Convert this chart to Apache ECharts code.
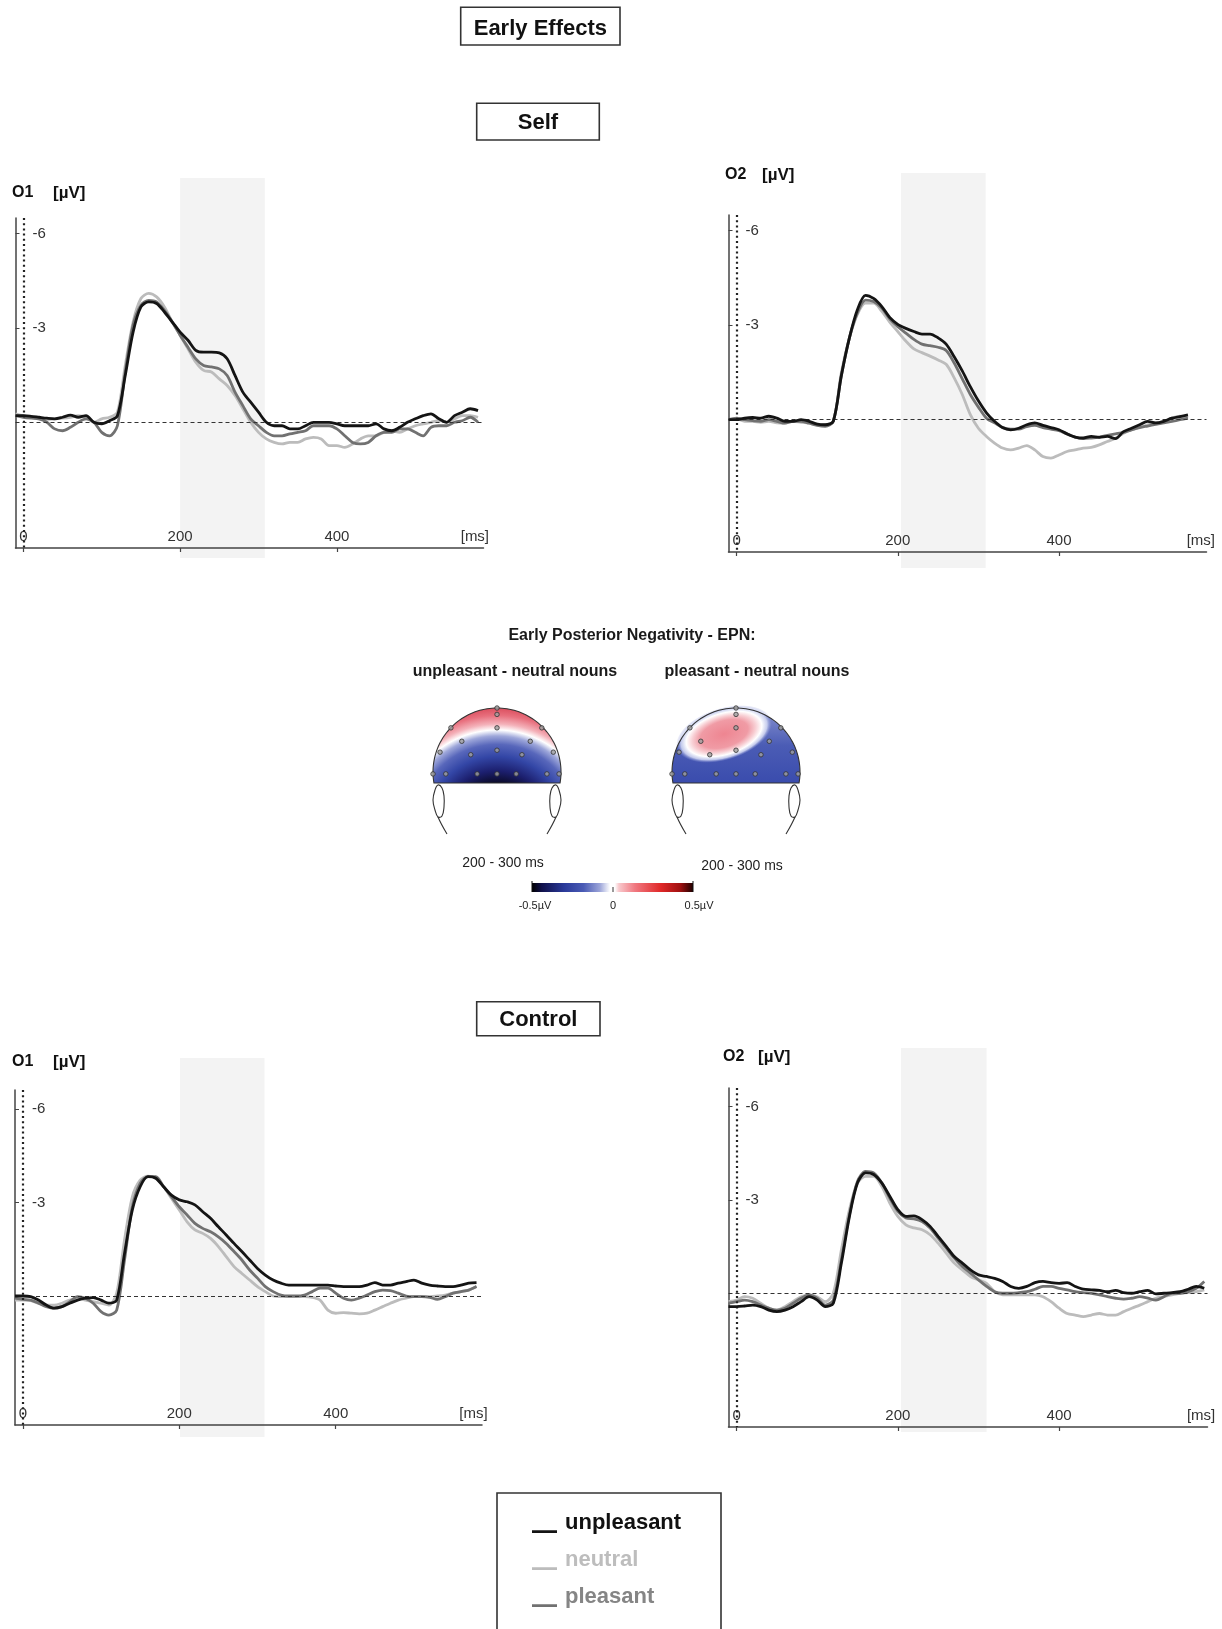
<!DOCTYPE html>
<html>
<head>
<meta charset="utf-8">
<script src="https://cdn.jsdelivr.net/npm/echarts@6/dist/echarts.min.js"></script>
<style>html,body{margin:0;padding:0;background:#fff}#c{width:1222px;height:1629px}</style>
</head>
<body>
<div id="c"></div>
<script>
// ================= DATA =================
const times = [-10,0,10,20,30,40,50,60,70,80,90,100,110,120,130,140,150,160,170,180,190,200,210,220,230,240,250,260,270,280,290,300,310,320,330,340,350,360,370,380,390,400,410,420,430,440,450,460,470,480,490,500,510,520,530,540,550,560,570,580];

// Self, O1 (µV, negative plotted up)
const selfO1_unpleasant = [-0.21,-0.21,-0.19,-0.16,-0.13,-0.11,-0.16,-0.23,-0.16,-0.21,0,0.05,-0.05,-0.21,
  -1.49,-2.87,-3.67,-3.83,-3.78,-3.51,-3.19,-2.87,-2.61,-2.29,-2.23,-2.23,-2.21,
  -2.02,-1.49,-0.96,-0.64,-0.32,0,0.11,0.11,0.21,0.21,0.11,0,0,
  0,0.05,0.11,0.11,0.11,0.11,0.05,0.21,0.27,0.16,0,-0.11,-0.21,
  -0.27,-0.11,0,-0.21,-0.32,-0.43,-0.37];
const selfO1_neutral = [-0.27,-0.21,-0.16,-0.11,-0.09,-0.11,-0.13,-0.16,-0.21,-0.16,0,-0.11,-0.16,-0.32,
  -1.81,-3.19,-3.94,-4.1,-3.99,-3.67,-3.19,-2.77,-2.34,-1.91,-1.65,-1.6,-1.38,
  -1.17,-0.85,-0.43,0,0.32,0.53,0.64,0.69,0.64,0.64,0.53,0.48,0.53,
  0.74,0.74,0.8,0.69,0.53,0.43,0.43,0.32,0.27,0.32,0.21,0.11,0.05,
  0,-0.05,0,-0.11,-0.21,-0.21,-0.16];
const selfO1_pleasant = [-0.21,-0.16,-0.13,-0.11,0,0.21,0.27,0.16,0,-0.11,0,0.32,0.43,0.11,
  -1.6,-3.09,-3.72,-3.88,-3.83,-3.56,-3.19,-2.77,-2.39,-2.02,-1.81,-1.76,-1.7,
  -1.49,-0.96,-0.53,-0.11,0.11,0.32,0.43,0.43,0.37,0.32,0.27,0.11,0.11,
  0.11,0.21,0.43,0.64,0.69,0.64,0.43,0.32,0.32,0.21,0.21,0.32,0.43,
  0.16,0.11,0.11,0,-0.05,-0.16,0];

// Self, O2
const selfO2_unpleasant = [0,0,-0.05,-0.07,-0.05,-0.11,-0.05,0.05,0.05,0,0.05,0.14,0.16,0.05,
  -1.4,-2.6,-3.5,-3.95,-3.85,-3.6,-3.25,-3.03,-2.9,-2.8,-2.72,-2.72,-2.6,
  -2.4,-2.0,-1.55,-1.05,-0.6,-0.22,0.05,0.25,0.32,0.27,0.16,0.1,0.18,
  0.25,0.32,0.45,0.55,0.58,0.53,0.56,0.53,0.6,0.38,0.27,0.16,0.05,
  0.1,0.05,-0.05,-0.1,-0.15];
const selfO2_neutral = [0,-0.03,0.05,0.05,0.08,0.05,0.1,0.11,0.05,0.08,0.1,0.14,0.16,0.05,
  -1.5,-2.6,-3.35,-3.7,-3.7,-3.45,-3.1,-2.8,-2.5,-2.25,-2.13,-2.02,-1.9,
  -1.76,-1.33,-0.8,-0.16,0.27,0.53,0.74,0.9,0.96,0.9,0.82,0.96,1.17,
  1.22,1.12,1.01,0.96,0.9,0.88,0.8,0.69,0.59,0.43,0.32,0.24,0.16,
  0.11,0.05,-0.05,-0.11,-0.05];
const selfO2_pleasant = [0,-0.05,0,0.03,0.05,0,0.05,0.11,0.05,0.05,0.11,0.18,0.21,0.05,
  -1.4,-2.6,-3.4,-3.8,-3.75,-3.55,-3.2,-2.95,-2.75,-2.55,-2.4,-2.35,-2.3,
  -2.2,-1.8,-1.3,-0.8,-0.4,-0.05,0.1,0.25,0.3,0.3,0.22,0.18,0.25,
  0.3,0.35,0.45,0.55,0.6,0.58,0.55,0.5,0.45,0.4,0.32,0.25,0.2,
  0.15,0.1,0.05,0,-0.05];

// Control, O1
const controlO1_unpleasant = [-0.02,-0.02,0,0.11,0.27,0.37,0.32,0.21,0.11,0.05,0.03,0.11,0.21,0.11,
  -1.38,-2.77,-3.51,-3.83,-3.78,-3.51,-3.24,-3.09,-3.03,-2.93,-2.71,-2.5,-2.23,
  -1.97,-1.7,-1.44,-1.17,-0.9,-0.69,-0.53,-0.43,-0.37,-0.37,-0.37,-0.37,-0.37,
  -0.37,-0.34,-0.32,-0.32,-0.32,-0.37,-0.45,-0.37,-0.37,-0.43,-0.48,-0.53,-0.43,
  -0.37,-0.34,-0.32,-0.32,-0.37,-0.43,-0.45];
const controlO1_neutral = [0.11,0.11,0.13,0.21,0.27,0.27,0.21,0.11,0.05,0.11,0.16,0.21,0.27,-0.11,
  -1.81,-3.19,-3.72,-3.85,-3.78,-3.51,-3.14,-2.77,-2.39,-2.13,-2.02,-1.86,-1.6,
  -1.28,-0.96,-0.74,-0.53,-0.32,-0.16,-0.02,0,0,0,0,0.02,0.11,
  0.43,0.53,0.51,0.53,0.55,0.53,0.43,0.32,0.21,0.11,0.05,0,0,
  0,-0.02,-0.05,-0.11,-0.16,-0.21,-0.32];
const controlO1_pleasant = [0.05,0.09,0.11,0.21,0.32,0.37,0.32,0.16,0,0.05,0.21,0.48,0.59,0.43,
  -1.17,-2.87,-3.62,-3.83,-3.83,-3.51,-3.19,-2.87,-2.61,-2.34,-2.18,-2.07,-1.91,
  -1.7,-1.44,-1.17,-0.85,-0.59,-0.32,-0.16,-0.05,-0.02,-0.02,-0.05,-0.16,-0.27,
  -0.27,-0.11,0.05,0.11,0.05,-0.05,-0.16,-0.21,-0.19,-0.11,-0.02,0,0,
  0.02,0.09,0,-0.11,-0.16,-0.21,-0.32];

// Control, O2
const controlO2_unpleasant = [0.43,0.43,0.41,0.38,0.43,0.54,0.59,0.54,0.43,0.27,0.11,0.22,0.43,0.32,
  -0.97,-2.47,-3.55,-3.87,-3.82,-3.55,-3.12,-2.69,-2.47,-2.49,-2.37,-2.15,-1.83,
  -1.51,-1.18,-0.97,-0.75,-0.59,-0.54,-0.48,-0.38,-0.22,-0.16,-0.22,-0.34,-0.38,
  -0.34,-0.32,-0.34,-0.22,-0.13,-0.11,-0.09,-0.05,-0.09,-0.02,0,-0.05,-0.09,
  0.02,0,-0.02,-0.05,-0.13,-0.22,-0.16];
const controlO2_neutral = [0.27,0.22,0.11,0.16,0.32,0.48,0.54,0.43,0.27,0.11,0.05,0.11,0.27,0,
  -1.4,-2.69,-3.55,-3.76,-3.76,-3.44,-2.9,-2.47,-2.2,-2.1,-2.04,-1.88,-1.61,
  -1.29,-0.97,-0.75,-0.54,-0.43,-0.32,-0.05,0.05,0.05,0.05,0.05,0.05,0.11,
  0.27,0.48,0.65,0.7,0.75,0.7,0.65,0.7,0.7,0.59,0.48,0.38,0.27,
  0.16,0.11,0.05,0,-0.02,-0.05,-0.11];
const controlO2_pleasant = [0.32,0.27,0.22,0.27,0.38,0.48,0.54,0.48,0.32,0.16,0.05,0.16,0.38,0.22,
  -1.08,-2.53,-3.6,-3.92,-3.87,-3.55,-3.06,-2.63,-2.42,-2.39,-2.31,-2.1,-1.77,
  -1.45,-1.13,-0.86,-0.65,-0.43,-0.22,-0.05,0,0,-0.02,-0.05,-0.13,-0.22,
  -0.22,-0.16,-0.11,-0.05,-0.02,0,0.05,0.11,0.16,0.19,0.16,0.11,0.16,
  0.22,0.11,0,0,-0.05,-0.16,-0.38];

const conditionNames = ['unpleasant', 'neutral', 'pleasant'];
const channelNames = ['O1', 'O2', 'O1', 'O2'];
const unitLabel = '[µV]';
const yTickValues = [-6, -3];
const xTickValues = [0, 200, 400];
const msLabelPos = 576;
const msLabel = '[ms]';
const shadeWindows = [[200, 308], [204, 309], [201, 309], [204, 310]];

// electrode layout (head units, y up)
const electrodeX = [0, 0, -0.72, 0, 0.70, -0.55, 0.52, -0.89, 0, 0.88, -0.41, 0.39, -1.0, -0.80, -0.31, 0, 0.30, 0.78, 0.97];
const electrodeY = [1.0, 0.9, 0.69, 0.69, 0.69, 0.48, 0.48, 0.31, 0.34, 0.31, 0.27, 0.27, -0.03, -0.03, -0.03, -0.03, -0.03, -0.03, -0.03];
const colorbarLabels = ['-0.5µV', '0', '0.5µV'];

// ================= STYLE / LAYOUT =================
const FONT = "'Liberation Sans', Arial, Helvetica, sans-serif";
const COLORS = {unpleasant: '#141414', neutral: '#bcbcbc', pleasant: '#717171'};
const LEGEND_TEXT = {unpleasant: '#111111', neutral: '#bdbdbd', pleasant: '#858585'};
const DRAW_ORDER = ['neutral', 'pleasant', 'unpleasant'];

const panels = [
  {grid: {left: 15.5, top: 218, width: 468, height: 330}, xr: [-10, 587], yr: [-6.5, 4.0],
   lines: {unpleasant: selfO1_unpleasant, neutral: selfO1_neutral, pleasant: selfO1_pleasant},
   shadeY: [178, 558], lab: {x: 12, y: 193, ux: 53}},
  {grid: {left: 728.5, top: 215, width: 478, height: 337}, xr: [-10, 583], yr: [-6.5, 4.2],
   lines: {unpleasant: selfO2_unpleasant, neutral: selfO2_neutral, pleasant: selfO2_pleasant},
   shadeY: [173, 568], lab: {x: 725, y: 175, ux: 762}},
  {grid: {left: 15, top: 1090, width: 467, height: 335}, xr: [-10, 587], yr: [-6.6, 4.1],
   lines: {unpleasant: controlO1_unpleasant, neutral: controlO1_neutral, pleasant: controlO1_pleasant},
   shadeY: [1058, 1437], lab: {x: 12, y: 1062, ux: 53}},
  {grid: {left: 728.5, top: 1088, width: 479, height: 339}, xr: [-10, 584], yr: [-6.6, 4.3],
   lines: {unpleasant: controlO2_unpleasant, neutral: controlO2_neutral, pleasant: controlO2_pleasant},
   shadeY: [1048, 1432], lab: {x: 723, y: 1057, ux: 758}}
];

const HEADS = [{cx: 497, cy: 772, r: 64, d: 11}, {cx: 736, cy: 772, r: 64, d: 11}];

// ================= BUILD =================
const grids = [], xAxes = [], yAxes = [], series = [];
panels.forEach((p, i) => {
  grids.push(Object.assign({containLabel: false, outerBoundsMode: 'none'}, p.grid));
  xAxes.push({
    type: 'value', gridIndex: i, min: p.xr[0], max: p.xr[1], position: 'bottom',
    axisLine: {show: true, onZero: false, lineStyle: {color: '#444', width: 1.5}},
    axisTick: {show: true, inside: false, length: 4, customValues: xTickValues, lineStyle: {color: '#444', width: 1.2}},
    axisLabel: {show: true, inside: true, margin: 4, customValues: xTickValues.concat([msLabelPos]),
      formatter: v => (v === msLabelPos ? msLabel : String(v)),
      color: '#333', fontSize: 15, fontFamily: FONT},
    splitLine: {show: false}
  });
  yAxes.push({
    type: 'value', gridIndex: i, min: p.yr[0], max: p.yr[1], inverse: true, position: 'left',
    axisLine: {show: true, onZero: false, lineStyle: {color: '#444', width: 1.5}},
    axisTick: {show: true, inside: true, length: 4, customValues: yTickValues, lineStyle: {color: '#444'}},
    axisLabel: {show: true, inside: true, margin: 17, customValues: yTickValues,
      formatter: v => String(v), color: '#333', fontSize: 15, fontFamily: FONT},
    splitLine: {show: false}
  });
  DRAW_ORDER.forEach((name, k) => {
    const vals = p.lines[name];
    const s = {
      type: 'line', name: name, xAxisIndex: i, yAxisIndex: i,
      data: vals.map((v, j) => [times[j], v]),
      showSymbol: false, symbol: 'none', smooth: 0.3, silent: true,
      color: COLORS[name],
      lineStyle: {color: COLORS[name], width: 2.8},
      z: 3 + k
    };
    if (k === 0) {
      s.markLine = {
        silent: true, symbol: ['none', 'none'], label: {show: false}, animation: false,
        data: [
          {xAxis: 0, lineStyle: {type: [2, 3.2], width: 2.2, color: '#222'}},
          {yAxis: 0, lineStyle: {type: [4, 3], width: 1, color: '#333'}}
        ]
      };
    }
    series.push(s);
  });
});

// electrode grids
HEADS.forEach((h, k) => {
  const gi = grids.length;
  grids.push({left: h.cx - h.r, top: h.cy - h.r, width: 2 * h.r, height: 2 * h.r, containLabel: false, outerBoundsMode: 'none'});
  xAxes.push({type: 'value', gridIndex: gi, min: -1, max: 1, show: false});
  yAxes.push({type: 'value', gridIndex: gi, min: -1, max: 1, show: false});
  series.push({
    type: 'scatter', name: 'electrodes' + k, xAxisIndex: gi, yAxisIndex: gi, clip: false, silent: true,
    data: electrodeX.map((x, j) => [x, electrodeY[j]]),
    symbol: 'circle', symbolSize: 4.5,
    itemStyle: {color: '#a0a0a0', borderColor: '#333', borderWidth: 1}, z: 20
  });
});

const chart = echarts.init(document.getElementById('c'), null, {renderer: 'canvas', width: 1222, height: 1629});
const baseOption = {
  animation: false,
  backgroundColor: '#ffffff',
  grid: grids, xAxis: xAxes, yAxis: yAxes, series: series,
  legend: {
    show: true, orient: 'vertical', left: 532, top: 1512, itemGap: 15, padding: 0,
    itemWidth: 25, itemHeight: 20, selectedMode: false,
    icon: 'path://M0,0L0.1,0L0.1,0.1Z M0,17.3L25,17.3L25,20L0,20Z',
    textStyle: {fontSize: 22, fontWeight: 'bold', fontFamily: FONT, lineHeight: 20, padding: [0, 0, 0, 3]},
    data: conditionNames.map(n => ({name: n, itemStyle: {color: COLORS[n]}, textStyle: {color: LEGEND_TEXT[n]}}))
  }
};
chart.setOption(baseOption);

// ================= GRAPHICS =================
const G = [];
function txt(text, x, y, size, weight, align, color) {
  G.push({type: 'text', x: x, y: y, z: 10, silent: true,
    style: {text: text, fill: color || '#111', font: `${weight} ${size}px ${FONT}`, textAlign: align || 'center', textVerticalAlign: 'middle'}});
}
function box(text, x, y, w, h, size, dy) {
  G.push({type: 'rect', z: 10, silent: true, shape: {x: x, y: y, width: w, height: h}, style: {fill: '#fff', stroke: '#333', lineWidth: 1.6}});
  txt(text, x + w / 2, y + h / 2 + dy, size, 'bold', 'center', '#111');
}
box('Early Effects', 460.7, 7.3, 159.3, 37.7, 22, 3);
box('Self', 476.7, 103.3, 122.6, 36.7, 22, 1.5);
box('Control', 476.7, 1001.7, 123.3, 34, 22, 1.5);
// legend frame
G.push({type: 'rect', z: 0, silent: true, shape: {x: 497, y: 1493, width: 224, height: 150}, style: {fill: 'none', stroke: '#333', lineWidth: 1.6}});

// channel labels & shading
panels.forEach((p, i) => {
  txt(channelNames[i], p.lab.x, p.lab.y, 16, 'bold', 'left', '#111');
  txt(unitLabel, p.lab.ux, p.lab.y, 17, 'bold', 'left', '#111');
  const x1 = chart.convertToPixel({xAxisIndex: i}, shadeWindows[i][0]);
  const x2 = chart.convertToPixel({xAxisIndex: i}, shadeWindows[i][1]);
  G.push({type: 'rect', z: -5, silent: true,
    shape: {x: x1, y: p.shadeY[0], width: x2 - x1, height: p.shadeY[1] - p.shadeY[0]},
    style: {fill: '#f3f3f3'}});
});

// topomap section texts
txt('Early Posterior Negativity - EPN:', 632, 636, 16, 'bold', 'center', '#1a1a1a');
txt('unpleasant - neutral nouns', 515, 672, 16, 'bold', 'center', '#1a1a1a');
txt('pleasant - neutral nouns', 757, 672, 16, 'bold', 'center', '#1a1a1a');
txt('200 - 300 ms', 503, 863, 14, 'normal', 'center', '#222');
txt('200 - 300 ms', 742, 866, 14, 'normal', 'center', '#222');

function headPoints(h) {
  const a0 = Math.asin(h.d / h.r);
  const pts = [];
  const n = 90;
  for (let k = 0; k <= n; k++) {
    const a = Math.PI - a0 + (Math.PI + 2 * a0) * k / n;
    pts.push([h.cx + h.r * Math.cos(a), h.cy + h.r * Math.sin(a)]);
  }
  return pts;
}
function earNeck(h) {
  [-1, 1].forEach(s => {
    const X = dx => h.cx - s * dx, Y = dy => h.cy + dy;
    const rel = [[59, 13], [62, 18], [64, 28], [62, 38], [59, 45], [55, 44], [53, 35], [53, 24], [55, 16]];
    G.push({type: 'polygon', z: 3, silent: true, shape: {points: rel.map(p => [X(p[0]), Y(p[1])]), smooth: 0.4},
      style: {fill: '#fff', stroke: '#333', lineWidth: 1.1}});
    G.push({type: 'bezierCurve', z: 3, silent: true,
      shape: {x1: X(59), y1: Y(45), cpx1: X(56), cpy1: Y(52), cpx2: X(53), cpy2: Y(57), x2: X(50), y2: Y(62)},
      style: {fill: 'none', stroke: '#333', lineWidth: 1.1}});
  });
}

// left head: unpleasant - neutral
const hL = HEADS[0];
G.push({type: 'polygon', z: 2, silent: true, shape: {points: headPoints(hL)},
  style: {fill: {type: 'radial', x: hL.cx, y: hL.cy + 54, r: 120, global: true, colorStops: [
    {offset: 0, color: '#050515'}, {offset: 0.36, color: '#0b0b2a'}, {offset: 0.46, color: '#1c1f6e'},
    {offset: 0.58, color: '#3346a6'}, {offset: 0.68, color: '#5867bb'}, {offset: 0.75, color: '#9ea7da'},
    {offset: 0.80, color: '#ffffff'}, {offset: 0.85, color: '#f4b2ba'}, {offset: 0.92, color: '#e8707e'},
    {offset: 1, color: '#d84656'}]},
    stroke: '#333', lineWidth: 1.1}});
earNeck(hL);

// right head: pleasant - neutral
const hR = HEADS[1];
G.push({type: 'polygon', z: 2, silent: true, shape: {points: headPoints(hR)},
  style: {fill: {type: 'linear', x: 0, y: 0, x2: 0, y2: 1, colorStops: [
    {offset: 0, color: '#8893d0'}, {offset: 0.5, color: '#4b5cb5'}, {offset: 1, color: '#3a4cad'}]}}});
G.push({type: 'circle', z: 2, silent: true, x: hR.cx - 12, y: hR.cy - 38, scaleX: 1.9, scaleY: 1, rotation: 0.3,
  shape: {cx: 0, cy: 0, r: 26},
  style: {fill: {type: 'radial', x: 0.5, y: 0.5, r: 0.5, colorStops: [
    {offset: 0, color: '#ee8591'}, {offset: 0.5, color: '#f09ba5'}, {offset: 0.66, color: '#f8cfd4'},
    {offset: 0.79, color: '#ffffff'}, {offset: 0.9, color: 'rgba(215,220,245,0.85)'}, {offset: 1, color: 'rgba(140,150,215,0)'}]}}});
G.push({type: 'polygon', z: 3, silent: true, shape: {points: headPoints(hR)},
  style: {fill: 'none', stroke: '#333', lineWidth: 1.1}});
earNeck(hR);

// colorbar
G.push({type: 'rect', z: 2, silent: true, shape: {x: 532, y: 883, width: 161, height: 9},
  style: {fill: {type: 'linear', x: 0, y: 0, x2: 1, y2: 0, colorStops: [
    {offset: 0, color: '#000000'}, {offset: 0.06, color: '#10104a'}, {offset: 0.2, color: '#2a3a9a'},
    {offset: 0.32, color: '#4a5bb5'}, {offset: 0.42, color: '#9aa3d8'}, {offset: 0.47, color: '#e8eaf6'},
    {offset: 0.485, color: '#ffffff'}, {offset: 0.515, color: '#ffffff'}, {offset: 0.54, color: '#f8c8cc'},
    {offset: 0.64, color: '#f07880'}, {offset: 0.8, color: '#e02828'}, {offset: 0.92, color: '#a01010'},
    {offset: 1, color: '#200000'}]}}});
G.push({type: 'line', z: 3, silent: true, shape: {x1: 613, y1: 887, x2: 613, y2: 892}, style: {stroke: '#333', lineWidth: 1}});
G.push({type: 'line', z: 3, silent: true, shape: {x1: 532, y1: 881, x2: 532, y2: 892}, style: {stroke: '#111', lineWidth: 1}});
G.push({type: 'line', z: 3, silent: true, shape: {x1: 693, y1: 881, x2: 693, y2: 892}, style: {stroke: '#111', lineWidth: 1}});
txt(colorbarLabels[0], 535, 906, 11, 'normal', 'center', '#222');
txt(colorbarLabels[1], 613, 906, 11, 'normal', 'center', '#222');
txt(colorbarLabels[2], 699, 906, 11, 'normal', 'center', '#222');

chart.setOption({graphic: {elements: G}});
</script>
</body>
</html>
